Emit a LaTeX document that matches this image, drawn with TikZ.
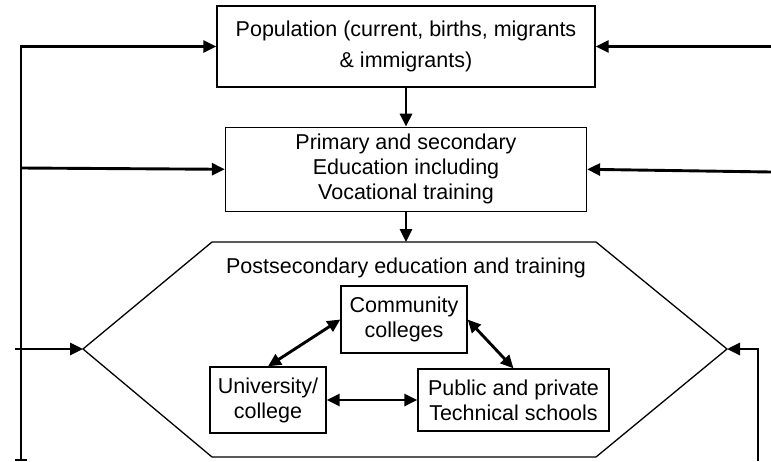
\documentclass[tikz,border=0pt]{standalone}
\usepackage{fontspec}
\setmainfont{Liberation Sans}
\usetikzlibrary{arrows.meta,positioning}

\begin{document}
\begin{tikzpicture}[x=1pt,y=-1pt,font=\fontsize{21.5}{25}\selectfont,
    box/.style={draw,line width=1.3pt,align=center,inner sep=0pt},
    flow/.style={-{Triangle[length=13pt,width=12pt]},line width=2.9pt},
    both/.style={{Triangle[length=13pt,width=12pt]}-{Triangle[length=13pt,width=12pt]},line width=2.9pt}]
    \useasboundingbox (0,0) rectangle (771,461);

    \node[box,minimum width=378pt,minimum height=81pt] (pop) at (406,46.5) {Population (current, births, migrants\\[6pt]\& immigrants)};
    \node[box,minimum width=361pt,minimum height=84pt,below=39pt of pop] (prim) {Primary and secondary\\Education including\\Vocational training};

    \coordinate (hexW) at (83,349);
    \coordinate (hexNW) at (212,242);
    \coordinate (hexNE) at (596,242);
    \coordinate (hexE) at (727,349);
    \coordinate (hexSE) at (596,457);
    \coordinate (hexSW) at (212,457);
    \coordinate (hexN) at (406,242);
    \draw[line width=1.3pt] (hexW) -- (hexNW) -- (hexNE) -- (hexE) -- (hexSE) -- (hexSW) -- cycle;

    \node (post) at (406,268) {Postsecondary education and training};
    \node[box,minimum width=126pt,minimum height=67pt] (cc) at (404,319.5) {Community\\colleges};
    \node[box,minimum width=116pt,minimum height=66pt] (uni) at (268,400) {University/\\college};
    \node[box,minimum width=191pt,minimum height=62pt] (tech) at (513.5,400) {Public and private\\Technical schools};

    \draw[flow] (pop) -- (prim);
    \draw[flow] (prim.south) -- (hexN);
    \draw[both] (uni.north) -- (cc.west);
    \draw[both] (cc.east) -- (tech.north);
    \draw[both] (uni) -- (tech);

    \coordinate (lTop) at (21,46.5);
    \coordinate (lMid) at (21,168);
    \coordinate (lHex) at (15,349);
    \coordinate (lBot) at (21,460);
    \draw[flow] (lBot) -- (lTop) -- (pop.west);
    \draw[flow] (lMid) -- (prim.west);
    \draw[flow] (lHex) -- (hexW);
    \draw[line width=1.5pt] ([xshift=-6pt]lBot) -- ([xshift=6pt]lBot);

    \coordinate (rTop) at (771,46.5);
    \coordinate (rMid) at (771,172);
    \coordinate (rBot) at (758,461);
    \draw[flow] (rTop) -- (pop.east);
    \draw[flow] (rMid) -- (prim.east);
    \draw[flow] (rBot) |- (hexE);
\end{tikzpicture}
\end{document}
